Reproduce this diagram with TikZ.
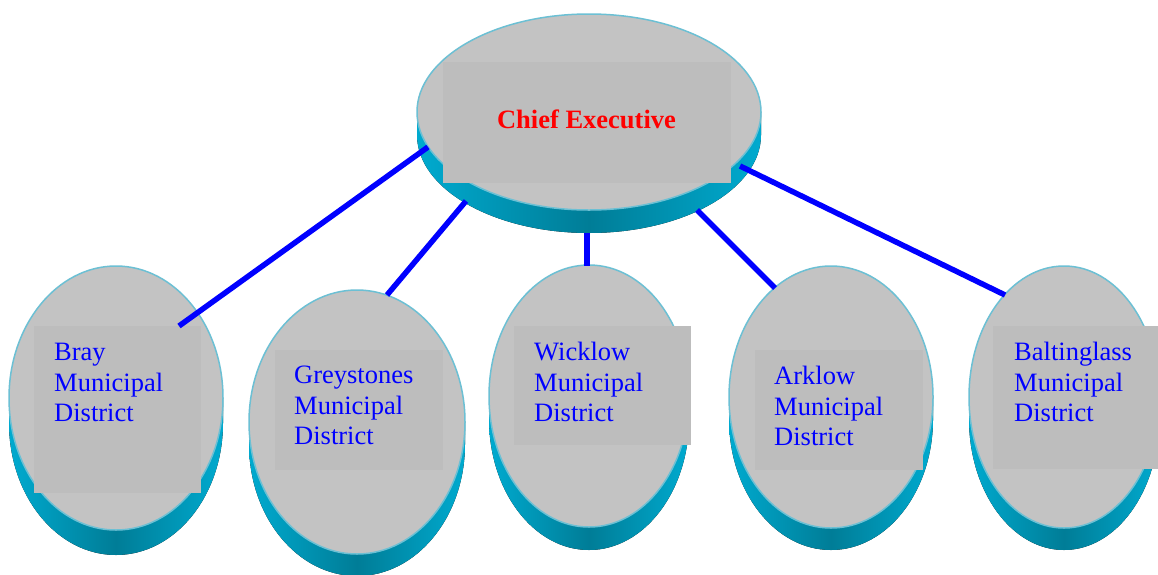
\documentclass[tikz,border=0pt]{standalone}
\usepackage{fontspec}
\setmainfont{Liberation Serif}
\usetikzlibrary{shapes.geometric}
\definecolor{facegray}{HTML}{C3C3C3}
\definecolor{boxgray}{HTML}{BDBDBD}
\definecolor{rimblue}{HTML}{6CC0D4}
\definecolor{sidecyan}{HTML}{00AACF}
\definecolor{sidedark}{HTML}{007D97}
\newcommand\mydisc[5]{% cx, cy, rx, ry, depth
  \fill[left color=sidecyan, right color=sidecyan, middle color=sidedark]
    (#1-#3, #2) -- (#1-#3, #2+#5)
    arc[start angle=180, end angle=360, x radius=#3pt, y radius=#4pt]
    -- (#1+#3, #2) -- cycle;
}
\begin{document}
\begin{tikzpicture}[x=1pt, y=-1pt,
  face/.style={ellipse, fill=facegray, draw=rimblue, line width=1.5pt, inner sep=0pt, outer sep=0pt},
  textbox/.style={fill=boxgray},
  link/.style={draw=blue, line width=5.5pt},
  district/.style={text=blue, font=\fontsize{26.5}{30.5}\selectfont, align=left, anchor=north west, inner sep=0pt},
  chief/.style={text=red, font=\fontsize{26.5}{30.5}\selectfont\bfseries, anchor=base, inner sep=0pt}
]
\useasboundingbox (0,0) rectangle (1158,574);
\fill[white] (0,0) rectangle (1158,574);

% Chief Executive
\mydisc{589}{112}{172}{98}{23}
\node[face, minimum width=344pt, minimum height=196pt] (ce) at (589,112) {};
\fill[textbox] (443,62) rectangle (731,183);
\node[chief] (tce) at (586.5,128) {Chief Executive};

% Bray
\mydisc{116}{398}{107}{132}{25}
\node[face, minimum width=214pt, minimum height=264pt] (bray) at (116,398) {};
\fill[textbox] (34,326) rectangle (201,493);
\node[district] (tbray) at (54,343) {Bray\\Municipal\\District};

% Greystones
\mydisc{357}{422}{108}{132}{22}
\node[face, minimum width=216pt, minimum height=264pt] (grey) at (357,422) {};
\fill[textbox] (275,350) rectangle (443,470);
\node[district] (tgrey) at (294,366) {Greystones\\Municipal\\District};

% Wicklow
\mydisc{589}{396}{100}{131}{23}
\node[face, minimum width=200pt, minimum height=262pt] (wick) at (589,396) {};
\fill[textbox] (514,326) rectangle (691,445);
\node[district] (twick) at (534,342) {Wicklow\\Municipal\\District};

% Arklow
\mydisc{831}{397}{102}{131}{22}
\node[face, minimum width=204pt, minimum height=262pt] (ark) at (831,397) {};
\fill[textbox] (755,350) rectangle (923,470);
\node[district] (tark) at (774,366) {Arklow\\Municipal\\District};

% Baltinglass
\mydisc{1064}{397}{95}{131}{22}
\node[face, minimum width=190pt, minimum height=262pt] (balt) at (1064,397) {};
\fill[textbox] (993,326) rectangle (1160,469);
\node[district] (tbalt) at (1014,342) {Baltinglass\\Municipal\\District};

% connector end points
\coordinate (c1) at (428,147); \coordinate (b1) at (179,326);
\coordinate (c2) at (466,201); \coordinate (b2) at (387,295);
\coordinate (c3) at (587,233); \coordinate (b3) at (587,266);
\coordinate (c4) at (697,210); \coordinate (b4) at (775,288);
\coordinate (c5) at (740,166); \coordinate (b5) at (1005,295);

\draw[link] (c1) -- (b1);
\draw[link] (c2) -- (b2);
\draw[link] (c3) -- (b3);
\draw[link] (c4) -- (b4);
\draw[link] (c5) -- (b5);
\end{tikzpicture}
\end{document}
